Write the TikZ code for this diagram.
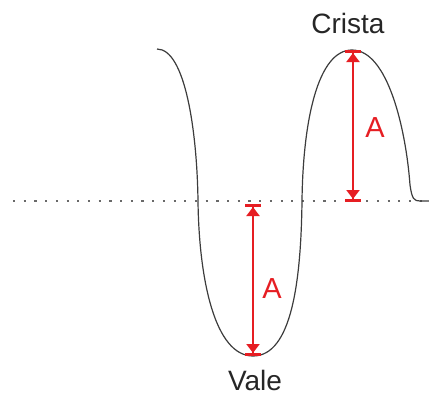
\documentclass[tikz,border=0pt]{standalone}
\usepackage{fontspec}
\setmainfont{Liberation Sans}
\usetikzlibrary{arrows.meta}
\definecolor{ampred}{RGB}{230,30,35}
\definecolor{wavegray}{RGB}{60,60,60}
\definecolor{axisgray}{RGB}{105,105,105}
\tikzset{
  wave/.style={draw=wavegray, line width=1.2pt},
  axisline/.style={draw=axisgray, line width=1.8pt, dash pattern=on 2.2pt off 8.5pt},
  amp/.style={draw=ampred, line width=2pt,
    {Bar[width=16pt,line width=3pt]Triangle[width=13pt,length=9pt,sep=0pt]}-{Triangle[width=13pt,length=9pt,sep=0pt]Bar[width=16pt,line width=3pt]}},
  label/.style={text=black!85, font=\fontsize{28}{30}\selectfont, inner sep=0pt, anchor=base},
  alabel/.style={text=ampred, font=\fontsize{29}{31}\selectfont, inner sep=0pt, anchor=base}
}
\begin{document}
\begin{tikzpicture}[x=1pt,y=-1pt]
\useasboundingbox (0,0) rectangle (429,405);
% axis
\coordinate (axL) at (13,201);
\coordinate (axR) at (429,201);
\draw[axisline] (axL) -- (axR);
% wave
\draw[wave] (157,49) .. controls (185,49) and (197,130) .. (198,201)
  .. controls (199,280) and (215,356) .. (253,356)
  .. controls (292,356) and (301,280) .. (302,201)
  .. controls (303,120) and (318,50) .. (352,50)
  .. controls (388,50) and (406,130) .. (410,185)
  .. controls (412,199) and (414,201) .. (420,201) -- (429,201);
% amplitude arrows
\coordinate (crestTop) at (353,50);
\coordinate (crestBase) at (353,202);
\coordinate (valeTop) at (253,204);
\coordinate (valeBot) at (253,356);
\draw[amp] (crestTop) -- (crestBase);
\draw[amp] (valeTop) -- (valeBot);
% labels
\node[label] (crista) at (348,33) {Crista};
\node[label] (vale) at (255,390) {Vale};
\node[alabel] (a1) at (375,137) {A};
\node[alabel] (a2) at (272,298) {A};
\end{tikzpicture}
\end{document}
